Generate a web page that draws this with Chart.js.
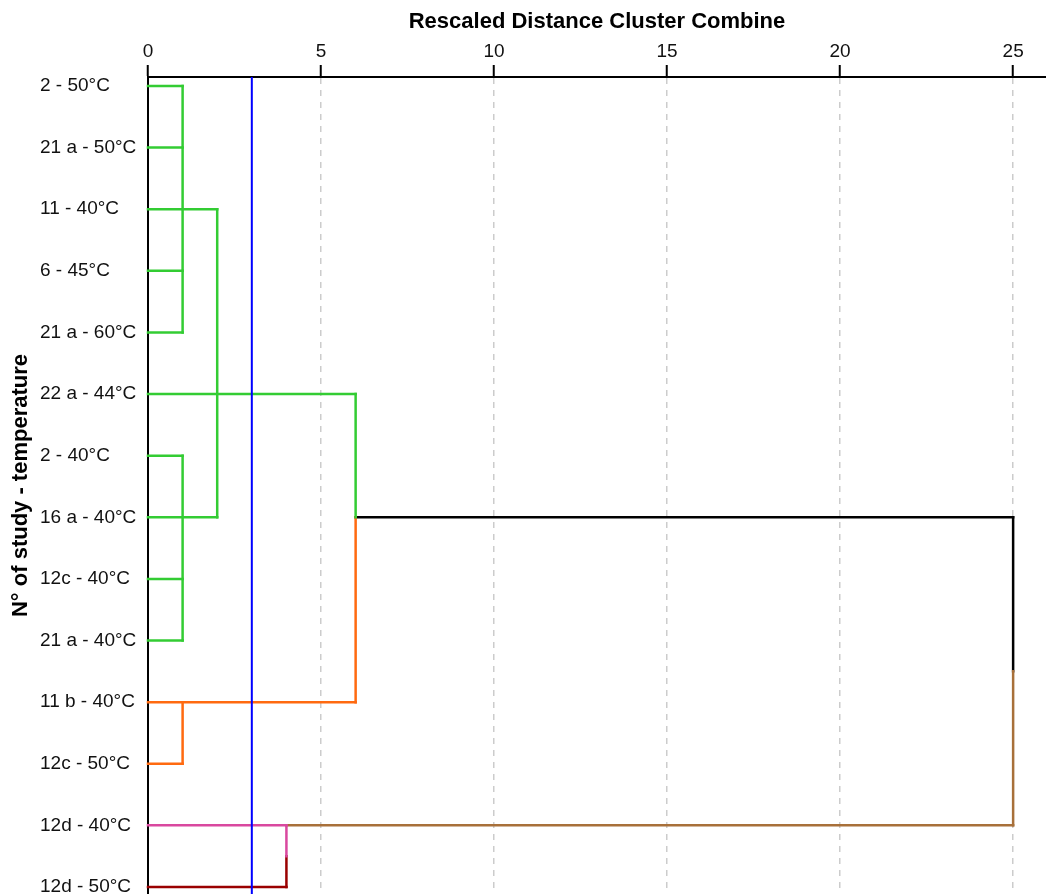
<!DOCTYPE html>
<html>
<head>
<meta charset="utf-8">
<title>Dendrogram</title>
<script src="https://cdn.jsdelivr.net/npm/chart.js@4/dist/chart.umd.min.js"></script>
<style>
  html, body { margin: 0; padding: 0; background: #fff; }
  #wrap { width: 1046px; height: 894px; position: relative; }
</style>
</head>
<body>
<div id="wrap"><canvas id="c"></canvas></div>
<script>
// Leaves, top to bottom (row index = position)
const leafLabels = [
  '2 - 50°C', '21 a - 50°C', '11 - 40°C', '6 - 45°C', '21 a - 60°C',
  '22 a - 44°C', '2 - 40°C', '16 a - 40°C', '12c - 40°C', '21 a - 40°C',
  '11 b - 40°C', '12c - 50°C', '12d - 40°C', '12d - 50°C'
];
const distanceTicks = [0, 5, 10, 15, 20, 25];
const cutDistance = 3;

// Branches: [distance from, distance to, row from, row to]
const greenBranches = [
  [0, 1, 0, 0], [0, 1, 1, 1], [0, 2, 2, 2], [0, 1, 3, 3], [0, 1, 4, 4],
  [1, 1, 0, 4],
  [0, 6, 5, 5],
  [0, 1, 6, 6], [0, 2, 7, 7], [0, 1, 8, 8], [0, 1, 9, 9],
  [1, 1, 6, 9],
  [2, 2, 2, 7],
  [6, 6, 5, 7]
];
const orangeBranches = [[0, 6, 10, 10], [0, 1, 11, 11], [1, 1, 10, 11], [6, 6, 7, 10]];
const pinkBranches = [[0, 4, 12, 12], [4, 4, 12, 12.5]];
const darkRedBranches = [[0, 4, 13, 13], [4, 4, 12.5, 13]];
const brownBranches = [[4, 25, 12, 12], [25, 25, 9.5, 12]];
const blackBranches = [[6, 25, 7, 7], [25, 25, 7, 9.5]];

const Y_MIN = -0.146, Y_MAX = 13.114;
const X_MIN = 0, X_MAX = 25.95;

const FONT = '"Liberation Sans", Arial, Helvetica, sans-serif';

function branchSets(list, color) {
  return list.map(([x1, x2, y1, y2]) => ({
    data: [{ x: x1, y: y1 }, { x: x2, y: y2 }],
    borderColor: color,
    borderWidth: 2.5,
    borderCapStyle: 'square',
    showLine: true,
    pointRadius: 0,
    clip: 4
  }));
}

const datasets = [
  {
    data: [{ x: cutDistance, y: Y_MIN }, { x: cutDistance, y: Y_MAX }],
    borderColor: '#0000ff', borderWidth: 2, showLine: true, pointRadius: 0, clip: 4
  },
  ...branchSets(greenBranches, '#33cc33'),
  ...branchSets(orangeBranches, '#ff6a10'),
  ...branchSets(pinkBranches, '#d9489f'),
  ...branchSets(darkRedBranches, '#9a0000'),
  ...branchSets(brownBranches, '#a8703a'),
  ...branchSets(blackBranches, '#000000')
];

// Rotated title for the leaf axis, drawn left of the leaf labels
const yTitlePlugin = {
  id: 'yTitle',
  afterDraw(chart) {
    const { ctx, chartArea } = chart;
    ctx.save();
    ctx.translate(21, (chartArea.top + chartArea.bottom) / 2);
    ctx.rotate(-Math.PI / 2);
    ctx.font = 'bold 22px ' + FONT;
    ctx.fillStyle = '#000';
    ctx.textAlign = 'center';
    ctx.textBaseline = 'middle';
    ctx.fillText('N° of study - temperature', 0, 0);
    ctx.restore();
  }
};

new Chart(document.getElementById('c'), {
  type: 'scatter',
  data: { datasets },
  plugins: [yTitlePlugin],
  options: {
    responsive: true,
    maintainAspectRatio: false,
    animation: false,
    layout: { padding: { left: 40, top: 0, right: 0, bottom: 0 } },
    plugins: { legend: { display: false }, tooltip: { enabled: false } },
    scales: {
      x: {
        type: 'linear',
        position: 'top',
        min: X_MIN,
        max: X_MAX,
        afterBuildTicks(scale) { scale.ticks = distanceTicks.map(v => ({ value: v })); },
        afterFit(scale) { scale.height = 77; },
        grid: {
          color: '#cccccc',
          lineWidth: 1.5,
          drawTicks: true,
          tickLength: 12,
          tickColor: '#000',
          tickWidth: 2
        },
        border: { display: true, color: '#000', width: 2, dash: [6, 6] },
        ticks: { color: '#111', font: { family: FONT, size: 19 }, padding: 2 },
        title: {
          display: true,
          text: 'Rescaled Distance Cluster Combine',
          color: '#000',
          font: { family: FONT, size: 22, weight: 'bold' },
          padding: { top: 9, bottom: 2 }
        }
      },
      y: {
        type: 'linear',
        reverse: true,
        min: Y_MIN,
        max: Y_MAX,
        afterBuildTicks(scale) { scale.ticks = leafLabels.map((_, i) => ({ value: i })); },
        afterFit(scale) {
          scale.width = 108;
          scale.paddingTop = 0;
          scale.paddingBottom = 0;
        },
        grid: { display: false },
        border: { display: true, color: '#000', width: 2 },
        ticks: {
          crossAlign: 'far',
          color: '#111',
          font: { family: FONT, size: 19 },
          callback: (v) => leafLabels[v] ?? ''
        }
      }
    }
  }
});
</script>
</body>
</html>
